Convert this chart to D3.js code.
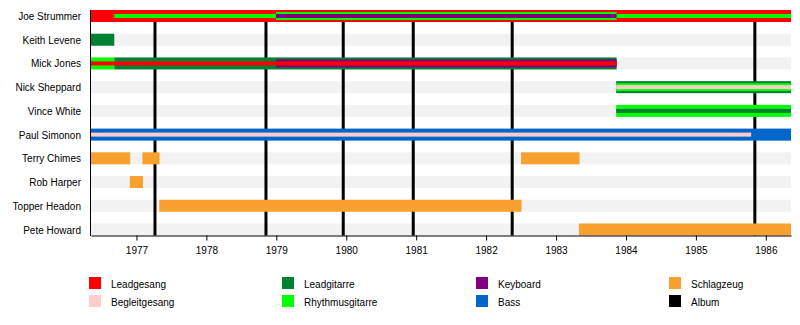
<!DOCTYPE html>
<html>
<head>
<meta charset="utf-8">
<script src="https://cdn.jsdelivr.net/npm/d3@7"></script>
<style>
  html, body { margin: 0; padding: 0; background: #fff; }
  svg { display: block; font-family: "Liberation Sans", Arial, sans-serif; }
</style>
</head>
<body>
<svg id="chart" width="800" height="325"></svg>
<script>
// ---- data ----
const members = ["Joe Strummer", "Keith Levene", "Mick Jones", "Nick Sheppard", "Vince White",
                 "Paul Simonon", "Terry Chimes", "Rob Harper", "Topper Headon", "Pete Howard"];
const periodStart = 1976.35;
const periodEnd = 1986.36;
const tickYears = [1977, 1978, 1979, 1980, 1981, 1982, 1983, 1984, 1985, 1986];
const albums = [1977.265, 1978.852, 1979.957, 1980.958, 1982.373, 1985.843];

const roles = ["Leadgesang", "Begleitgesang", "Leadgitarre", "Rhythmusgitarre", "Keyboard", "Bass", "Schlagzeug", "Album"];
const roleColors = ["#ff0000", "#ffcccc", "#008033", "#00ff00", "#800080", "#0066cc", "#f9a12e", "#000000"];

// bars: [member, role, from, till, layer]  layer: 0 = full, 1 = medium, 2 = thin
const bars = [
  ["Joe Strummer", "Leadgesang", 1976.35, 1986.36, 0],
  ["Joe Strummer", "Rhythmusgitarre", 1976.683, 1986.36, 2],
  ["Joe Strummer", "Rhythmusgitarre", 1978.995, 1983.866, 1],
  ["Joe Strummer", "Keyboard", 1978.995, 1983.866, 2],
  ["Keith Levene", "Leadgitarre", 1976.35, 1976.683, 0],
  ["Mick Jones", "Rhythmusgitarre", 1976.35, 1976.683, 0],
  ["Mick Jones", "Leadgitarre", 1976.683, 1983.866, 0],
  ["Mick Jones", "Keyboard", 1978.995, 1983.866, 1],
  ["Mick Jones", "Leadgesang", 1976.35, 1983.866, 2],
  ["Nick Sheppard", "Leadgitarre", 1983.86, 1986.36, 0],
  ["Nick Sheppard", "Rhythmusgitarre", 1983.86, 1986.36, 1],
  ["Nick Sheppard", "Begleitgesang", 1983.86, 1986.36, 2],
  ["Vince White", "Rhythmusgitarre", 1983.86, 1986.36, 0],
  ["Vince White", "Leadgitarre", 1983.86, 1986.36, 2],
  ["Paul Simonon", "Bass", 1976.35, 1986.36, 0],
  ["Paul Simonon", "Begleitgesang", 1976.35, 1985.79, 2],
  ["Terry Chimes", "Schlagzeug", 1976.35, 1976.912, 0],
  ["Terry Chimes", "Schlagzeug", 1977.085, 1977.33, 0],
  ["Terry Chimes", "Schlagzeug", 1982.50, 1983.337, 0],
  ["Rob Harper", "Schlagzeug", 1976.905, 1977.093, 0],
  ["Topper Headon", "Schlagzeug", 1977.326, 1982.507, 0],
  ["Pete Howard", "Schlagzeug", 1983.327, 1986.36, 0]
];

// ---- layout ----
const svg = d3.select("#chart");
const x = d3.scaleLinear().domain([periodStart, periodEnd]).range([91, 791]);
const y = d3.scalePoint().domain(members).range([16, 229.5]);
const layerH = [12, 8, 4];
const color = d3.scaleOrdinal().domain(roles).range(roleColors);

// background stripes
svg.append("g").selectAll("rect").data(members).join("rect")
  .attr("x", x(periodStart)).attr("width", x(periodEnd) - x(periodStart))
  .attr("y", d => y(d) - 6).attr("height", 12)
  .attr("fill", "#f2f2f2");

// album lines (behind bars)
svg.append("g").selectAll("line").data(albums).join("line")
  .attr("x1", d => x(d)).attr("x2", d => x(d))
  .attr("y1", 10).attr("y2", 235.5)
  .attr("stroke", "#000").attr("stroke-width", 3);

// bars
svg.append("g").selectAll("rect").data(bars).join("rect")
  .attr("x", d => x(d[2])).attr("width", d => x(d[3]) - x(d[2]))
  .attr("y", d => y(d[0]) - layerH[d[4]] / 2).attr("height", d => layerH[d[4]])
  .attr("fill", d => color(d[1]));

// member labels
svg.append("g").selectAll("text").data(members).join("text")
  .attr("x", 81).attr("y", d => y(d) + 4)
  .attr("text-anchor", "end").attr("font-size", 10).attr("fill", "#000")
  .text(d => d);

// axes
const xAxis = d3.axisBottom(x).tickValues(tickYears).tickFormat(d3.format("d"))
  .tickSize(5).tickSizeOuter(0).tickPadding(6);
const gx = svg.append("g").attr("transform", "translate(0,235.5)").call(xAxis);
gx.selectAll("text").attr("font-size", 10).attr("fill", "#000").attr("font-family", "'Liberation Sans', Arial, sans-serif");
gx.selectAll("line, path").attr("stroke", "#000");

svg.append("line").attr("x1", 90.5).attr("x2", 90.5).attr("y1", 10).attr("y2", 236)
  .attr("stroke", "#000").attr("stroke-width", 1);

// legend
const legendX = [89, 282, 476, 669];
const legendY = [277, 295];
const lg = svg.append("g").selectAll("g").data(roles).join("g")
  .attr("transform", (d, i) => `translate(${legendX[Math.floor(i / 2)]},${legendY[i % 2]})`);
lg.append("rect").attr("width", 12).attr("height", 12).attr("fill", d => color(d));
lg.append("text").attr("x", 22).attr("y", 11).attr("font-size", 10).attr("fill", "#000").text(d => d);
</script>
</body>
</html>
